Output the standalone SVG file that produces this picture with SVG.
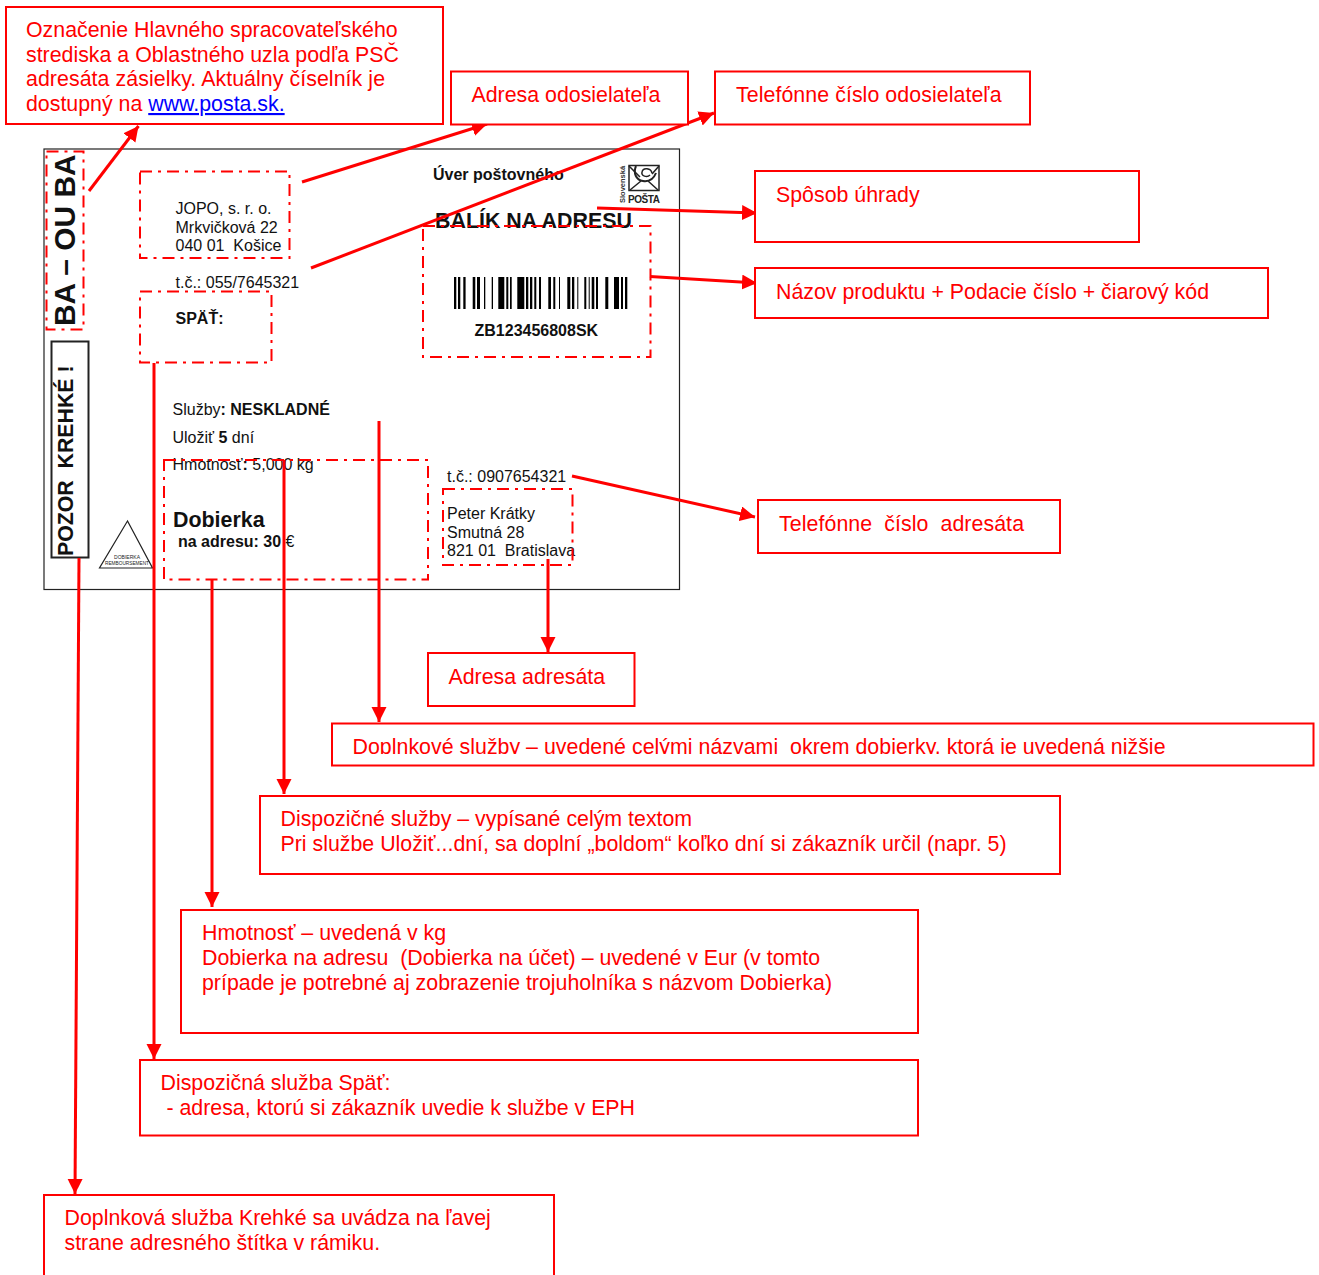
<svg xmlns="http://www.w3.org/2000/svg" width="1319" height="1275" viewBox="0 0 1319 1275">
<style>
text{font-family:"Liberation Sans",Arial,sans-serif;white-space:pre}
.b{fill:#fff;stroke:#f00;stroke-width:2}
.r{fill:#f00;font-size:21.35px}
.k{fill:#111;font-size:16px}
.bd{font-weight:bold}
.d{fill:none;stroke:#f00;stroke-width:2;stroke-dasharray:12 6 3 6}
.c{fill:none;stroke:#f00;stroke-width:3}
</style>
<defs>
<marker id="a" markerUnits="userSpaceOnUse" markerWidth="16" markerHeight="16" refX="15" refY="7.500" orient="auto"><path d="M0 0L15 7.500L0 15z" fill="#f00"/></marker>
<clipPath id="cp"><rect x="333" y="725" width="980" height="29"/></clipPath>
</defs>
<rect width="1319" height="1275" fill="#fff"/>
<g id="label">
<rect x="44" y="149" width="635.500" height="440.500" fill="#fff" stroke="#222" stroke-width="1.200"/>
<g id="sender-text">
<text class="k" x="175.500" y="214">JOPO, s. r. o.</text>
<text class="k" x="175.500" y="233">Mrkvičková 22</text>
<text class="k" x="175.500" y="251">040 01  Košice</text>
<text class="k" x="175.500" y="288">t.č.: 055/7645321</text>
<text class="k bd" x="175.500" y="324">SPÄŤ:</text>
</g>
<text class="k bd" x="433" y="180">Úver poštovného</text>
<text class="bd" x="435" y="228" font-size="21.400" fill="#111">BALÍK NA ADRESU</text>
<g id="barcode" fill="#000">
<path d="M454 277h2.300v32h-2.300zM458 277h2.300v32h-2.300zM463.300 277h2.300v32h-2.300zM472.700 277h2.600v32h-2.600zM477 277h3v32h-3zM484 277h1.300v32h-1.300zM491.700 277h1.300v32h-1.300zM498.300 277h6v32h-6zM506.300 277h2v32h-2zM510 277h1.700v32h-1.700zM517.300 277h7v32h-7zM526 277h2.300v32h-2.300zM530 277h2.300v32h-2.300zM534.300 277h2v32h-2zM539 277h2v32h-2zM548.300 277h2.700v32h-2.700zM553.300 277h2v32h-2zM559 277h1v32h-1zM567.300 277h3v32h-3zM572 277h2.300v32h-2.300zM577.300 277h1v32h-1zM584.300 277h2v32h-2zM588.700 277h1v32h-1zM591.700 277h2.600v32h-2.600zM596 277h2v32h-2zM605.300 277h3v32h-3zM614 277h5v32h-5zM621 277h2v32h-2zM625 277h2.300v32h-2.300z"/>
</g>
<text class="k bd" x="474.500" y="336">ZB123456808SK</text>
<g id="logo">
<rect x="629" y="165.500" width="30" height="25" fill="#fff" stroke="#222" stroke-width="1.500"/>
<path d="M629 166l11 11M659 166l-7 8M630 190l11-9M658 190l-10-9" stroke="#222" stroke-width="1.500" fill="none"/>
<path d="M636 166c-3 7 0 14 7 15c7 1 11-3 13-8" stroke="#222" stroke-width="2" fill="none"/>
<path d="M652 173c-1-5-9-6-10-1c-1 4 5 6 8 3" stroke="#222" stroke-width="1.500" fill="none"/>
<text x="628" y="203" font-size="10" class="bd" fill="#222" textLength="32">POŠTA</text>
<text transform="translate(624.500 203) rotate(-90)" font-size="7.500" class="bd" fill="#333">Slovenská</text>
</g>
<text class="bd" transform="translate(75 326) rotate(-90)" font-size="29.900" fill="#111">BA – OU BA</text>
<rect x="51.500" y="341.500" width="37" height="216" fill="#fff" stroke="#222" stroke-width="2"/>
<text class="bd" transform="translate(73 556) rotate(-90)" font-size="21.300" fill="#111">POZOR  KREHKÉ !</text>
<g id="triangle">
<path d="M127.500 521L99.500 568H152.500z" fill="#fff" stroke="#222" stroke-width="1.200"/>
<text x="127" y="558.500" font-size="4.500" text-anchor="middle" fill="#222" textLength="26" lengthAdjust="spacingAndGlyphs">DOBIERKA</text>
<text x="127" y="565" font-size="4.800" text-anchor="middle" fill="#222" textLength="44" lengthAdjust="spacingAndGlyphs">REMBOURSEMENT</text>
</g>
<text class="k" x="172.500" y="415">Služby<tspan class="bd">: NESKLADNÉ</tspan></text>
<text class="k" x="172.500" y="443">Uložiť <tspan class="bd">5</tspan> dní</text>
<text class="k" x="172.500" y="470">Hmotnosť<tspan class="bd">:</tspan> 5,000 kg</text>
<text class="bd" x="173" y="527" font-size="21.400" fill="#111">Dobierka</text>
<text class="k" x="178" y="547"><tspan class="bd">na adresu: 30 </tspan>€</text>
<text class="k" x="447" y="482">t.č.: 0907654321</text>
<text class="k" x="447" y="519">Peter Krátky</text>
<text class="k" x="447" y="538">Smutná 28</text>
<text class="k" x="447" y="556">821 01  Bratislava</text>
</g>
<g id="dashed-frames">
<rect class="d" x="46.500" y="151.500" width="37" height="178"/>
<rect class="d" x="140" y="171.500" width="149.500" height="86.500"/>
<rect class="d" x="140" y="291.500" width="131.500" height="71"/>
<rect class="d" x="423" y="226" width="227.500" height="131"/>
<rect class="d" x="164" y="460" width="264" height="119.500"/>
<rect class="d" x="443" y="489" width="129.500" height="76"/>
</g>
<g id="connectors">
<path class="c" d="M89 191L138.500 126" marker-end="url(#a)"/>
<path class="c" d="M302 182L487 124" marker-end="url(#a)"/>
<path class="c" d="M311 268L714 113" marker-end="url(#a)"/>
<path class="c" d="M597 208L757 213" marker-end="url(#a)"/>
<path class="c" d="M650 276.500L757 283" marker-end="url(#a)"/>
<path class="c" d="M572 476L755 517" marker-end="url(#a)"/>
<path class="c" d="M548 559V652" marker-end="url(#a)"/>
<path class="c" d="M379 421V722" marker-end="url(#a)"/>
<path class="c" d="M284 460V794" marker-end="url(#a)"/>
<path class="c" d="M212 579V907" marker-end="url(#a)"/>
<path class="c" d="M154 363V1059" marker-end="url(#a)"/>
<path class="c" d="M79 558L75 1194" marker-end="url(#a)"/>
</g>
<g id="n1"><rect class="b" x="6" y="7" width="437" height="117"/>
<text class="r" x="26" y="36.500">Označenie Hlavného spracovateľského</text>
<text class="r" x="26" y="61.500">strediska a Oblastného uzla podľa PSČ</text>
<text class="r" x="26" y="86" textLength="359">adresáta zásielky. Aktuálny číselník je</text>
<text class="r" x="26" y="111">dostupný na <tspan fill="#00f" text-decoration="underline">www.posta.sk.</tspan></text></g>
<g id="n2"><rect class="b" x="451" y="71.500" width="237" height="53"/><text class="r" x="471.500" y="101.500">Adresa odosielateľa</text></g>
<g id="n3"><rect class="b" x="715" y="71.500" width="315" height="53"/><text class="r" x="736" y="101.500" textLength="265.500">Telefónne číslo odosielateľa</text></g>
<g id="n4"><rect class="b" x="755" y="171" width="384" height="71"/><text class="r" x="776" y="201.500">Spôsob úhrady</text></g>
<g id="n5"><rect class="b" x="755" y="268" width="513" height="50"/><text class="r" x="776" y="298.500">Názov produktu + Podacie číslo + čiarový kód</text></g>
<g id="n6"><rect class="b" x="758" y="500" width="302" height="53"/><text class="r" x="779" y="530.500" textLength="245">Telefónne  číslo  adresáta</text></g>
<g id="n7"><rect class="b" x="428" y="653" width="206.500" height="53"/><text class="r" x="448.500" y="683.500">Adresa adresáta</text></g>
<g id="n8"><rect class="b" x="332" y="723.500" width="981.500" height="42"/><text class="r" x="352.500" y="753.500" clip-path="url(#cp)" textLength="813">Doplnkové služby – uvedené celými názvami  okrem dobierky, ktorá je uvedená nižšie</text></g>
<g id="n9"><rect class="b" x="260" y="796" width="800" height="78"/>
<text class="r" x="280.500" y="826">Dispozičné služby – vypísané celým textom</text>
<text class="r" x="280.500" y="851">Pri službe Uložiť...dní, sa doplní „boldom“ koľko dní si zákazník určil (napr. 5)</text></g>
<g id="n10"><rect class="b" x="181" y="910" width="737" height="123"/>
<text class="r" x="202" y="940">Hmotnosť – uvedená v kg</text>
<text class="r" x="202" y="965">Dobierka na adresu  (Dobierka na účet) – uvedené v Eur (v tomto</text>
<text class="r" x="202" y="990">prípade je potrebné aj zobrazenie trojuholníka s názvom Dobierka)</text></g>
<g id="n11"><rect class="b" x="140" y="1060" width="778" height="75.500"/>
<text class="r" x="160.500" y="1090">Dispozičná služba Späť:</text>
<text class="r" x="160.500" y="1115"> - adresa, ktorú si zákazník uvedie k službe v EPH</text></g>
<g id="n12"><path class="b" d="M44 1276V1195H554V1276"/>
<text class="r" x="64.500" y="1225">Doplnková služba Krehké sa uvádza na ľavej</text>
<text class="r" x="64.500" y="1250">strane adresného štítka v rámiku.</text></g>
</svg>
